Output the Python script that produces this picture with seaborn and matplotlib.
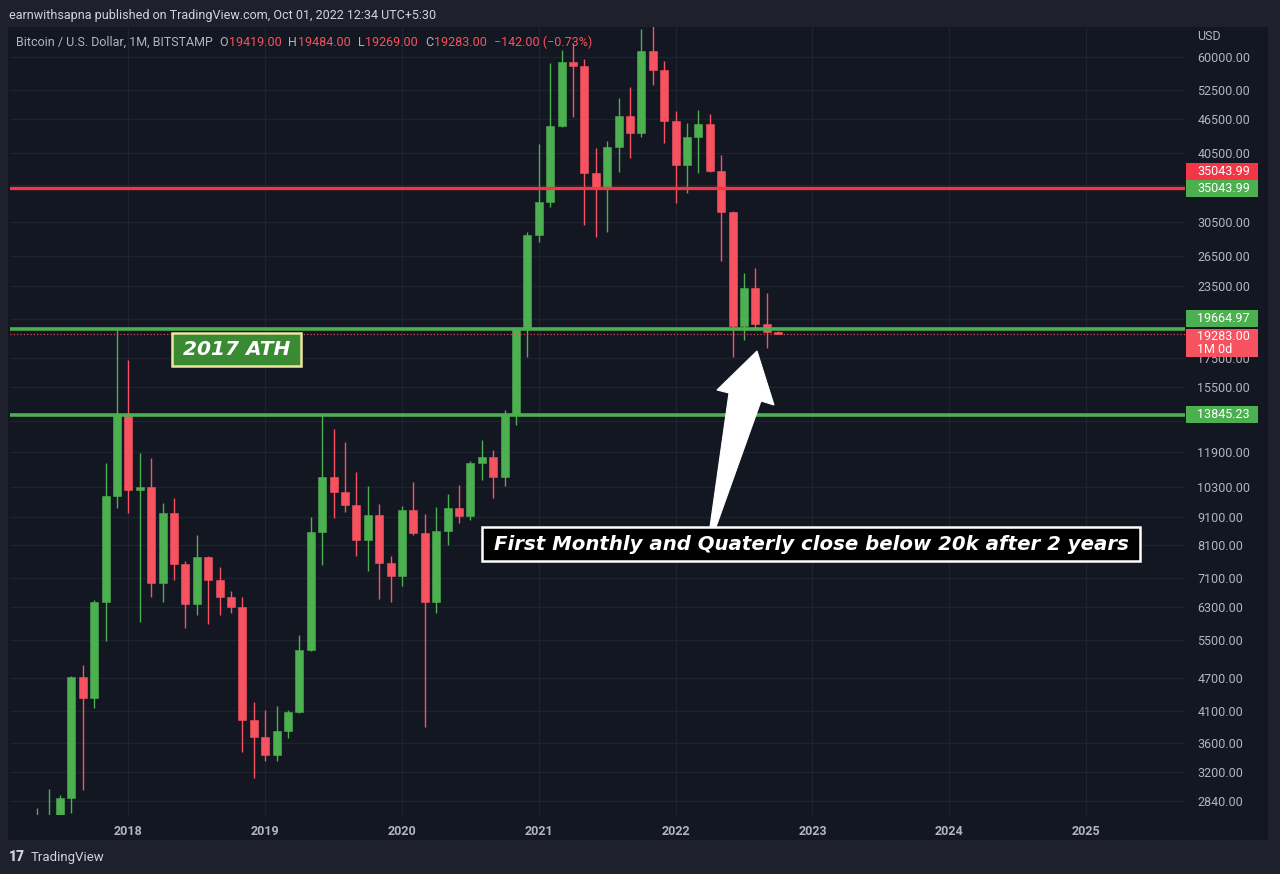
import numpy as np
import pandas as pd
import matplotlib
matplotlib.use("Agg")
import matplotlib.pyplot as plt
from matplotlib.patches import Rectangle, Polygon
from matplotlib.ticker import FixedLocator, FuncFormatter, NullLocator
import seaborn as sns

# --- data: BTCUSD monthly candles (Bitstamp), May 2017 .. Oct 2022 ---
months = pd.period_range("2017-05", "2022-10", freq="M")
opens = [1348, 2300, 2480, 2870, 4718, 4330, 6418, 9913,
         13845, 10160, 10300, 6937, 9245, 7500, 6365, 7718, 7020, 6560, 6300, 3957,
         3690, 3430, 3783, 4088, 5270, 8550, 10720, 10080, 9555, 8278, 9170, 7532,
         7140, 9360, 8518, 6420, 8585, 9437, 9150, 11350, 11660, 10720, 13800, 19700,
         28900, 33100, 45200, 58850, 57810, 37330, 35044, 41520, 47160, 43850, 61480, 56860,
         46200, 38520, 43150, 45500, 37630, 31800, 19900, 23290, 20070, 19419]
highs = [2760, 2980, 2910, 4740, 4960, 6470, 11350, 19666,
         17310, 11825, 11600, 9625, 9840, 7600, 8460, 7760, 7400, 6720, 6550, 4258,
         4130, 4200, 4130, 5600, 9100, 13880, 13040, 12370, 10950, 10330, 9595, 7750,
         9520, 10500, 9200, 9480, 10000, 10380, 11450, 12500, 12000, 14100, 19850, 29300,
         41990, 58530, 61840, 63450, 59600, 41350, 42560, 50640, 52970, 67200, 69000, 59100,
         48130, 45810, 48270, 47420, 40130, 31960, 24700, 25210, 22760, 19484]
lows = [1330, 2100, 1830, 2700, 2970, 4155, 5470, 9430,
        9245, 5913, 6550, 6418, 7020, 5768, 6090, 5880, 6100, 6150, 3470, 3118,
        3350, 3350, 3680, 4070, 5250, 7470, 9080, 9300, 7740, 7290, 6500, 6420,
        6860, 8450, 3845, 6150, 8100, 8880, 8980, 10600, 9830, 10340, 13260, 17560,
        28140, 32470, 44960, 46960, 30110, 28630, 29300, 37480, 39580, 43300, 53400, 42100,
        33000, 34390, 37330, 37500, 26000, 17550, 18790, 19580, 18190, 19269]
closes = [2300, 2480, 2875, 4718, 4330, 6418, 9913, 13845,
          10160, 10300, 6937, 9245, 7500, 6365, 7718, 7020, 6560, 6300, 3957, 3690,
          3430, 3783, 4088, 5270, 8550, 10720, 10080, 9555, 8278, 9170, 7532, 7140,
          9360, 8518, 6420, 8585, 9437, 9150, 11350, 11660, 10720, 13800, 19700, 28900,
          33100, 45200, 58850, 57810, 37330, 35044, 41520, 47160, 43850, 61480, 56860, 46200,
          38520, 43150, 45500, 37630, 31800, 19900, 23290, 20070, 19425, 19283]

resistance = 35043.99
ath_2017 = 19664.97
support = 13845.23
last_close = 19283.00

price_ticks = [60000, 52500, 46500, 40500, 35500, 30500, 26500, 23500, 20500, 17500,
               15500, 13500, 11900, 10300, 9100, 8100, 7100, 6300, 5500, 4700, 4100,
               3600, 3200, 2840]
hidden_ticks = [35500, 20500, 13500]  # sit under the price tags
year_labels = ["2018", "2019", "2020", "2021", "2022", "2023", "2024", "2025"]

header = "earnwithsapna published on TradingView.com, Oct 01, 2022 12:34 UTC+5:30"
note_text = "First Monthly and Quaterly close below 20k after 2 years"

# --- colours ---
OUTER = "#1e212b"
BG = "#131722"
GRID = "#1f2330"
UP = "#4caf50"
DOWN = "#f7525f"
RED_LINE = "#f23645"
TXT = "#b2b5be"
W, H = 1280, 874


def fx(px):
    return px / W


def fy(py):
    return 1 - py / H


sns.set_theme(style="dark", rc={"axes.facecolor": BG, "figure.facecolor": OUTER,
                                "grid.color": GRID, "axes.edgecolor": BG})
plt.rcParams["font.family"] = ["Roboto", "DejaVu Sans"]

df = pd.DataFrame({"month": months, "open": opens, "high": highs,
                   "low": lows, "close": closes})
# month index relative to Jan 2018 (TradingView spaces bars evenly)
df["m"] = (df["month"].dt.year - 2018) * 12 + df["month"].dt.month - 1
df["up"] = df["close"] >= df["open"]
colors = np.where(df["up"], UP, DOWN)

fig = plt.figure(figsize=(W / 100, H / 100), dpi=100)
fig.add_artist(Rectangle((fx(8), fy(840)), fx(1268) - fx(8), fy(27) - fy(840),
                         transform=fig.transFigure, facecolor=BG, edgecolor="none", zorder=-1))
ax = fig.add_axes([fx(10), fy(815), fx(1185) - fx(10), fy(27) - fy(815)])
ax.set_facecolor(BG)

# candles
ax.vlines(df["m"], df["low"], df["high"], colors=colors, lw=1.0, zorder=3)
body_lo = np.minimum(df["open"], df["close"])
body_hi = np.maximum(df["open"], df["close"])
ax.bar(df["m"], body_hi - body_lo, bottom=body_lo, width=0.7, color=colors,
       edgecolor=colors, linewidth=0.4, zorder=4)

# key levels
ax.axhline(resistance, color=RED_LINE, lw=2.4, zorder=5)
ax.axhline(ath_2017, color=UP, lw=2.6, zorder=5)
ax.axhline(support, color=UP, lw=2.6, zorder=5)
ax.axhline(last_close, color=DOWN, lw=0.8, ls=(0, (1, 2)), zorder=5)

ax.set_yscale("log")
ax.set_ylim(2682, 67850)
ax.set_xlim(-10.39, 92.68)

ax.yaxis.tick_right()
ax.yaxis.set_major_locator(FixedLocator(price_ticks))
ax.yaxis.set_minor_locator(NullLocator())
ax.yaxis.set_major_formatter(
    FuncFormatter(lambda v, _: "" if round(v) in hidden_ticks else f"{v:.2f}"))
ax.tick_params(axis="y", length=0, pad=9, labelsize=9, labelcolor=TXT)

ax.set_xticks([12 * i for i in range(len(year_labels))])
ax.set_xticklabels(year_labels, fontweight="bold")
ax.tick_params(axis="x", length=0, pad=7, labelsize=9, labelcolor=TXT)

ax.grid(True, color=GRID, lw=0.9)
for s in ax.spines.values():
    s.set_visible(False)


# --- price tags on the right scale ---
def price_tag(price, text, color, dy=0, height=17):
    yc = H - ax.transData.transform((0, price))[1] + dy
    fig.add_artist(Rectangle((fx(1186), fy(yc + height / 2)), fx(1258) - fx(1186),
                             height / H, transform=fig.transFigure,
                             facecolor=color, edgecolor="none", zorder=6))
    fig.text(fx(1197), fy(yc), text, color="white", fontsize=9, ha="left",
             va="center", linespacing=1.05, zorder=7)


price_tag(resistance, f"{resistance:.2f}", RED_LINE, dy=-17)
price_tag(resistance, f"{resistance:.2f}", UP)
price_tag(ath_2017, f"{ath_2017:.2f}", UP, dy=-11)
price_tag(last_close, f"{last_close:.2f}\n1M 0d", DOWN, dy=9, height=28)
price_tag(support, f"{support:.2f}", UP)
fig.text(fx(1197), fy(37), "USD", color=TXT, fontsize=9, ha="left", va="center")

# --- header / legend ---
fig.text(fx(9), fy(15), header, color="#d1d4dc", fontsize=9, ha="left", va="center")

renderer = fig.canvas.get_renderer()
o, h, l, c = opens[-1], highs[-1], lows[-1], closes[-1]
chg = c - closes[-2]
pct = chg / closes[-2] * 100
pieces = [("Bitcoin / U.S. Dollar, 1M, BITSTAMP", TXT, 6),
          ("O", TXT, 1), (f"{o:.2f}", DOWN, 7),
          ("H", TXT, 1), (f"{h:.2f}", DOWN, 7),
          ("L", TXT, 1), (f"{l:.2f}", DOWN, 7),
          ("C", TXT, 1), (f"{c:.2f}", DOWN, 7),
          (f"\u2212{abs(chg):.2f} (\u2212{abs(pct):.2f}%)", DOWN, 0)]
xpos = 16
for s, col, gap in pieces:
    t = fig.text(fx(xpos), fy(46), s, color=col, fontsize=9, ha="left",
                 va="baseline", zorder=8)
    xpos += t.get_window_extent(renderer).width + gap

# footer logo
fig.text(fx(9), fy(857), "17", color="#d1d4dc", fontsize=10, fontweight="black",
         ha="left", va="center")
fig.text(fx(31), fy(857), "TradingView", color="#d1d4dc", fontsize=9.5,
         ha="left", va="center")

# --- annotations drawn on the screenshot ---
fig.add_artist(Rectangle((fx(172), fy(366)), fx(301) - fx(172), (366 - 333) / H,
                         transform=fig.transFigure, facecolor="#3a8a34",
                         edgecolor="#ece6a0", lw=1.8, zorder=9))
fig.text(fx(236.5), fy(350), "2017 ATH", color="white", fontsize=14.5,
         family="DejaVu Sans", fontweight="bold", fontstyle="oblique",
         ha="center", va="center", zorder=10)

fig.add_artist(Rectangle((fx(482), fy(561)), fx(1140) - fx(482), (561 - 527) / H,
                         transform=fig.transFigure, facecolor="black",
                         edgecolor="white", lw=1.8, zorder=9))
fig.text(fx(811), fy(544), note_text, color="white", fontsize=14.2,
         family="DejaVu Sans", fontweight="bold", fontstyle="oblique",
         ha="center", va="center", zorder=10)

arrow_px = [(710, 527), (729, 393), (717, 390), (757, 351), (774, 405), (761, 401), (716, 527)]
fig.add_artist(Polygon([(fx(a), fy(b)) for a, b in arrow_px], closed=True,
                       transform=fig.transFigure, facecolor="white",
                       edgecolor="white", lw=0.8, zorder=11))

fig.savefig("out.png", dpi=100, facecolor=OUTER)
